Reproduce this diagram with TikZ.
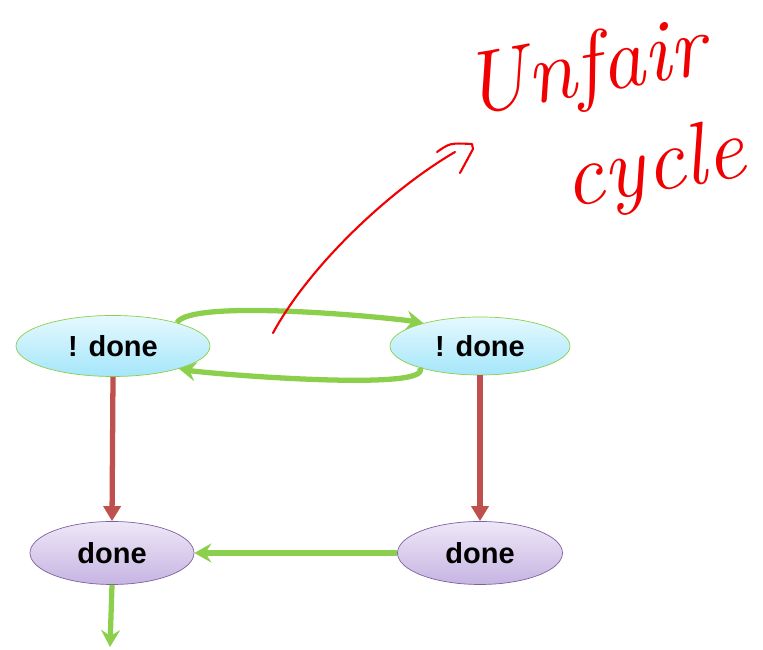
\documentclass[tikz,border=0pt]{standalone}
\usepackage{fontspec}
\setmainfont{Liberation Sans}
\newfontfamily\penfont{Latin Modern Roman}
\usetikzlibrary{shapes.geometric,arrows.meta}

\definecolor{edgegreen}{HTML}{8CCF4D}
\definecolor{edgered}{HTML}{C0504D}
\definecolor{penred}{HTML}{F00000}
\definecolor{cyantop}{HTML}{E6F9FE}
\definecolor{cyanbot}{HTML}{A4E6FA}
\definecolor{lilactop}{HTML}{EEE8F8}
\definecolor{lilacbot}{HTML}{C6B4E2}
\definecolor{lilacline}{HTML}{7E62A0}

\begin{document}
\begin{tikzpicture}[
	notdone/.style={ellipse, draw=edgegreen, top color=cyantop, bottom color=cyanbot, inner sep=0pt, minimum width=3.88cm, minimum height=1.22cm, font=\fontsize{16.5}{20}\selectfont\bfseries},
	donestate/.style={ellipse, draw=lilacline, top color=lilactop, bottom color=lilacbot, inner sep=0pt, minimum width=3.28cm, minimum height=1.26cm, font=\fontsize{16.5}{20}\selectfont\bfseries},
	greenarrow/.style={draw=edgegreen, line width=3pt, -{Stealth[length=0.34cm,width=0.38cm,inset=0.12cm,fill=edgegreen]}},
	redarrow/.style={draw=edgered, line width=3pt, -{Triangle[length=0.3cm,width=0.34cm,fill=edgered]}},
	handwriting/.style={penred, font=\fontsize{50}{56}\selectfont\penfont\itshape, inner sep=0pt}
]
	\useasboundingbox (0,0) rectangle (15.26,13);

	\node 	(a)		at	(2.26,6.08) 	[notdone]{! done};
	\node 	(b)		at	(9.6,6.08) 	[notdone, minimum width=3.6cm, minimum height=1.16cm]{! done};

	\node 	(c)		at	(2.24,1.94) 	[donestate]{done};
	\node 	(d)		at	(9.6,1.94) 	[donestate, minimum width=3.3cm]{done};

	\draw[redarrow] (a.south) -- (c.north);
	\draw[redarrow] (b.south) -- (d.north);
	\draw[greenarrow] (d.west) -- (c.east);

	\draw[greenarrow] (a.20) to[out=60,in=170,looseness=0.3] (b.158);
	\draw[greenarrow] (b.200) to[out=-60,in=-10,looseness=0.3] (a.341);

	\coordinate (out) at (2.2,0.06);
	\draw[greenarrow] (c.south) -- (out);

	% hand-written note
	\coordinate (pen0) at (5.46,6.34);
	\coordinate (pen1) at (9.1,9.96);
	\draw[penred, line width=1.2pt, line cap=round] (pen0) .. controls (6.2,7.7) and (7.8,9.2) .. (pen1);
	\draw[penred, line width=1.2pt, line cap=round, line join=round] (8.74,9.96) .. controls (9.0,10.14) .. (9.44,10.12) -- (9.46,10.02) -- (9.2,9.54);

	\node 	(unfair)	at	(11.7,11.55)	[handwriting, rotate=10]{Unfair};
	\node 	(cycle)		at	(13.1,9.6)	[handwriting, rotate=10]{cycle};

\end{tikzpicture}
\end{document}
